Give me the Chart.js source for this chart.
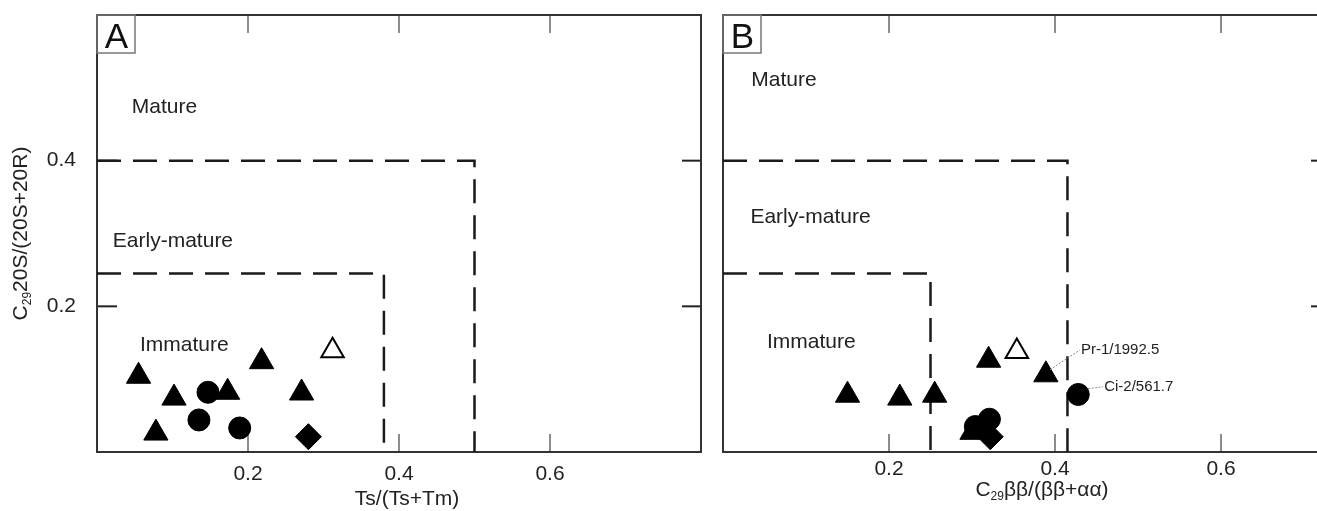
<!DOCTYPE html>
<html>
<head>
<meta charset="utf-8">
<script src="https://cdn.jsdelivr.net/npm/chart.js@4.4.1/dist/chart.umd.min.js"></script>
<style>
  html, body { margin: 0; padding: 0; background: #fff; width: 1317px; height: 511px; overflow: hidden; }
  #wa { position: absolute; left: 0; top: 0; width: 716px; height: 511px; }
  #wb { position: absolute; left: 705px; top: 0; width: 700px; height: 511px; }
  canvas { display: block; }
</style>
</head>
<body>
<div id="wa"><canvas id="ca" width="716" height="511" style="width:716px;height:511px"></canvas></div>
<div id="wb"><canvas id="cb" width="700" height="511" style="width:700px;height:511px"></canvas></div>
<script>
// ---------------- data ----------------
const xTickValues = [0.2, 0.4, 0.6];
const xTickLabels = ['0.2', '0.4', '0.6'];
const yTickValues = [0.2, 0.4];
const yTickLabels = ['0.2', '0.4'];
const zoneNames = ['Mature', 'Early-mature', 'Immature'];
const annotationTexts = ['Pr-1/1992.5', 'Ci-2/561.7'];

// Panel A : Ts/(Ts+Tm) vs C29 20S/(20S+20R)
const aTriX = [0.055, 0.102, 0.173, 0.218, 0.271, 0.078];
const aTriY = [0.104, 0.074, 0.082, 0.124, 0.081, 0.026];
const aOpenTriX = [0.312];
const aOpenTriY = [0.139];
const aCircleX = [0.147, 0.135, 0.189];
const aCircleY = [0.082, 0.044, 0.033];
const aDiamondX = [0.280];
const aDiamondY = [0.021];
const aImmatureX = [0, 0.38, 0.38];
const aImmatureY = [0.245, 0.245, 0];
const aEarlyX = [0, 0.5, 0.5];
const aEarlyY = [0.4, 0.4, 0];

// Panel B : C29 bb/(bb+aa) vs C29 20S/(20S+20R)
const bTriX = [0.300, 0.150, 0.213, 0.255, 0.320, 0.389];
const bTriY = [0.027, 0.078, 0.074, 0.078, 0.126, 0.106];
const bOpenTriX = [0.354];
const bOpenTriY = [0.138];
const bCircleX = [0.304, 0.321, 0.428];
const bCircleY = [0.035, 0.045, 0.079];
const bDiamondX = [0.322];
const bDiamondY = [0.021];
const bImmatureX = [0, 0.25, 0.25];
const bImmatureY = [0.245, 0.245, 0];
const bEarlyX = [0, 0.415, 0.415];
const bEarlyY = [0.4, 0.4, 0];

// ---------------- helpers ----------------
const FONT = "'Liberation Sans', Arial, Helvetica, sans-serif";
const pts = (xs, ys) => xs.map((x, i) => ({ x: x, y: ys[i] }));

function markerSets(triX, triY, oTriX, oTriY, cX, cY, dX, dY) {
  return [
    { data: pts(triX, triY), pointStyle: 'triangle', pointRadius: 14, backgroundColor: '#000', borderColor: '#000', borderWidth: 1, order: 4 },
    { data: pts(oTriX, oTriY), pointStyle: 'triangle', pointRadius: 13, backgroundColor: '#fff', borderColor: '#000', borderWidth: 2, order: 3 },
    { data: pts(cX, cY), pointStyle: 'circle', pointRadius: 11, backgroundColor: '#000', borderColor: '#000', borderWidth: 1, order: 2 },
    { data: pts(dX, dY), pointStyle: 'rectRot', pointRadius: 13, backgroundColor: '#000', borderColor: '#000', borderWidth: 1, order: 1 }
  ];
}
function boundary(xs, ys) {
  return { data: pts(xs, ys), showLine: true, pointRadius: 0, borderColor: '#1a1a1a', borderWidth: 2.5,
           borderDash: [24, 12], tension: 0, fill: false, order: 10 };
}
function line(ctx, x1, y1, x2, y2) { ctx.beginPath(); ctx.moveTo(x1, y1); ctx.lineTo(x2, y2); ctx.stroke(); }

function drawParts(ctx, parts, cx, baseline, size, subSize) {
  let w = 0;
  parts.forEach(p => { ctx.font = (p.sub ? subSize : size) + 'px ' + FONT; w += ctx.measureText(p.t).width; });
  let x = cx - w / 2;
  ctx.textAlign = 'left'; ctx.textBaseline = 'alphabetic';
  parts.forEach(p => {
    ctx.font = (p.sub ? subSize : size) + 'px ' + FONT;
    ctx.fillText(p.t, x, baseline + (p.sub ? 4 : 0));
    x += ctx.measureText(p.t).width;
  });
}

const decorPlugin = {
  id: 'decor',
  beforeDatasetsDraw(chart, args, o) {
    const { ctx, chartArea: a, scales: { x, y } } = chart;
    ctx.save();
    ctx.strokeStyle = '#666'; ctx.lineWidth = 1.5;
    xTickValues.forEach(v => {
      const px = x.getPixelForValue(v);
      line(ctx, px, a.bottom, px, a.bottom - 18);
      line(ctx, px, a.top, px, a.top + 18);
    });
    ctx.strokeStyle = '#222'; ctx.lineWidth = 2;
    yTickValues.forEach(v => {
      const py = y.getPixelForValue(v);
      if (o.leftTicks) line(ctx, a.left, py, a.left + 20, py);
      line(ctx, a.right, py, a.right - 19, py);
    });
    ctx.strokeStyle = '#333'; ctx.lineWidth = 2;
    ctx.strokeRect(a.left, a.top, a.right - a.left, a.bottom - a.top);
    ctx.restore();
  },
  afterDraw(chart, args, o) {
    const { ctx, chartArea: a, scales: { x, y } } = chart;
    ctx.save();
    ctx.strokeStyle = '#777'; ctx.lineWidth = 1.5;
    ctx.strokeRect(a.left, a.top, 38, 38);
    ctx.fillStyle = '#111';
    ctx.font = '35px ' + FONT; ctx.textAlign = 'center'; ctx.textBaseline = 'alphabetic';
    ctx.fillText(o.letter, a.left + 19.5, a.top + 33);
    ctx.fillStyle = '#222';
    ctx.font = '21px ' + FONT; ctx.textAlign = 'left'; ctx.textBaseline = 'middle';
    o.zones.forEach((z, i) => {
      ctx.fillText(zoneNames[i], x.getPixelForValue(z[0]), y.getPixelForValue(z[1]));
    });
    (o.notes || []).forEach((n, i) => {
      ctx.strokeStyle = '#888'; ctx.lineWidth = 1; ctx.setLineDash([2, 1.5]);
      line(ctx, x.getPixelForValue(n.from[0]), y.getPixelForValue(n.from[1]), x.getPixelForValue(n.to[0]), y.getPixelForValue(n.to[1]));
      ctx.setLineDash([]);
      ctx.fillStyle = '#222'; ctx.font = '15px ' + FONT; ctx.textAlign = 'left'; ctx.textBaseline = 'middle';
      ctx.fillText(annotationTexts[i], x.getPixelForValue(n.to[0]) + 1, y.getPixelForValue(n.to[1]));
    });
    ctx.fillStyle = '#222';
    drawParts(ctx, o.xTitle, o.xTitlePos[0], o.xTitlePos[1], 21, 12);
    if (o.yTitle) {
      ctx.save();
      ctx.translate(o.yTitlePos[0], (a.top + a.bottom) / 2);
      ctx.rotate(-Math.PI / 2);
      drawParts(ctx, o.yTitle, 0, 7, 21, 12);
      ctx.restore();
    }
    ctx.restore();
  }
};

function makeChart(id, sets, xMax, rightPad, yAxisWidth, showYLabels, xLabelPad, decor) {
  return new Chart(document.getElementById(id), {
    type: 'scatter',
    data: { datasets: sets },
    options: {
      responsive: false, animation: false, events: [],
      layout: { padding: { top: 14, right: rightPad, bottom: 0, left: 0 } },
      plugins: { legend: { display: false }, tooltip: { enabled: false }, decor: decor },
      scales: {
        x: {
          type: 'linear', min: 0, max: xMax,
          afterBuildTicks: s => { s.ticks = xTickValues.map(v => ({ value: v })); },
          afterFit: s => { s.height = 59; s.paddingLeft = 0; s.paddingRight = 0; s.paddingTop = 0; s.paddingBottom = 0; },
          grid: { display: false, drawTicks: false }, border: { display: false },
          ticks: { autoSkip: false, maxRotation: 0, padding: xLabelPad, color: '#222', font: { family: FONT, size: 21 },
                   callback: v => xTickLabels[xTickValues.indexOf(v)] }
        },
        y: {
          type: 'linear', min: 0, max: 0.6,
          afterBuildTicks: s => { s.ticks = yTickValues.map(v => ({ value: v })); },
          afterFit: s => { s.width = yAxisWidth; s.paddingLeft = 0; s.paddingRight = 0; s.paddingTop = 0; s.paddingBottom = 0; },
          grid: { display: false, drawTicks: false }, border: { display: false },
          ticks: { display: showYLabels, padding: 21, color: '#222', font: { family: FONT, size: 21 },
                   callback: v => yTickLabels[yTickValues.indexOf(v)] }
        }
      }
    },
    plugins: [decorPlugin]
  });
}

makeChart('ca',
  [boundary(aImmatureX, aImmatureY), boundary(aEarlyX, aEarlyY)]
    .concat(markerSets(aTriX, aTriY, aOpenTriX, aOpenTriY, aCircleX, aCircleY, aDiamondX, aDiamondY)),
  0.8, 4, 97, true, 10,
  { letter: 'A', leftTicks: true,
    zones: [[0.046, 0.473], [0.021, 0.289], [0.057, 0.147]],
    xTitle: [{ t: 'Ts/(Ts+Tm)' }], xTitlePos: [407, 505],
    yTitle: [{ t: 'C' }, { t: '29', sub: true }, { t: '20S/(20S+20R)' }], yTitlePos: [20] });

makeChart('cb',
  [boundary(bImmatureX, bImmatureY), boundary(bEarlyX, bEarlyY)]
    .concat(markerSets(bTriX, bTriY, bOpenTriX, bOpenTriY, bCircleX, bCircleY, bDiamondX, bDiamondY)),
  0.7313, 75, 18, false, 5,
  { letter: 'B', leftTicks: false,
    zones: [[0.034, 0.510], [0.033, 0.322], [0.053, 0.151]],
    notes: [{ from: [0.394, 0.113], to: [0.430, 0.140] }, { from: [0.440, 0.087], to: [0.458, 0.0895] }],
    xTitle: [{ t: 'C' }, { t: '29', sub: true }, { t: '\u03B2\u03B2/(\u03B2\u03B2+\u03B1\u03B1)' }], xTitlePos: [337, 496] });
</script>
</body>
</html>
